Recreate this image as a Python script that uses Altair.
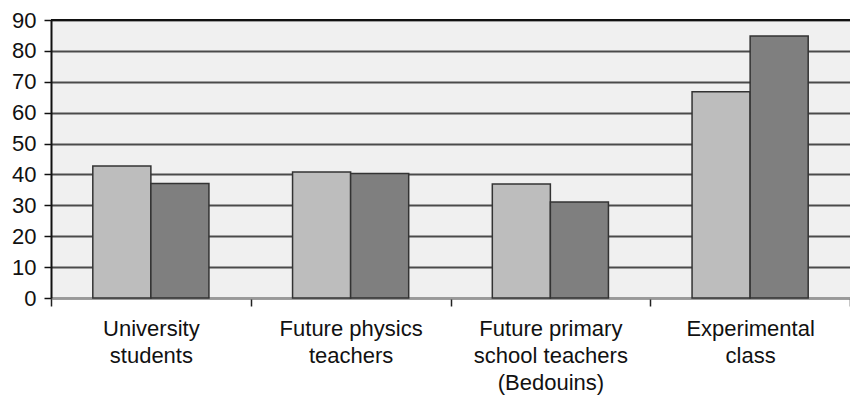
import altair as alt
import pandas as pd

categories = ["University|students", "Future physics|teachers",
              "Future primary|school teachers|(Bedouins)", "Experimental|class"]
series = ["Series 1", "Series 2"]
values_s1 = [42.7, 40.8, 36.9, 66.8]
values_s2 = [37.1, 40.3, 31.1, 84.8]
y_ticks = [0, 10, 20, 30, 40, 50, 60, 70, 80, 90]

rows = []
for c, a, b in zip(categories, values_s1, values_s2):
    rows.append({"cat": c, "series": series[0], "value": a})
    rows.append({"cat": c, "series": series[1], "value": b})
df = pd.DataFrame(rows)

FONT = "Liberation Sans"

y_axis = alt.Axis(values=y_ticks, labelFont=FONT, labelFontSize=22,
                  labelColor="#111", labelPadding=8, tickSize=7,
                  labelOverlap=False, labelBound=False,
                  tickColor="#111", tickWidth=1.5,
                  domainColor="#111", domainWidth=2,
                  grid=True, gridColor="#4a4a4a", gridWidth=2)
y_scale = alt.Scale(domain=[0, 90], nice=False)

bars = alt.Chart(df).mark_bar(stroke="#333333", strokeWidth=1.5).encode(
    x=alt.X("cat:N", sort=categories, title=None,
            scale=alt.Scale(paddingInner=0, paddingOuter=0),
            axis=alt.Axis(labelAngle=0,
                          labelExpr="datum.value ? split(datum.value, '|') : ''",
                          labelFont=FONT, labelFontSize=22, labelColor="#111",
                          labelLineHeight=27, labelPadding=12,
                          tickBand="extent", tickSize=8, tickColor="#222", tickWidth=1.5,
                          domainColor="#999", domainWidth=2, grid=False)),
    xOffset=alt.XOffset("series:N", sort=series,
                        scale=alt.Scale(paddingInner=0, paddingOuter=0.72)),
    y=alt.Y("value:Q", title=None, scale=y_scale, axis=y_axis),
    color=alt.Color("series:N", sort=series, legend=None,
                    scale=alt.Scale(domain=series, range=["#bdbdbd", "#7f7f7f"])),
)

top_line = alt.Chart(pd.DataFrame({"value": [90]})).mark_rule(
    color="#111", strokeWidth=2).encode(
    y=alt.Y("value:Q", title=None, scale=y_scale, axis=y_axis))

chart = alt.layer(bars, top_line).properties(
    width=799, height=278,
    autosize=alt.AutoSizeParams(type="none"),
    padding={"left": 43, "top": 12, "right": 0, "bottom": 97},
).configure_view(fill="#f0f0f0", stroke=None)

chart.save("out.html", embed_options={"renderer": "svg", "actions": False})
